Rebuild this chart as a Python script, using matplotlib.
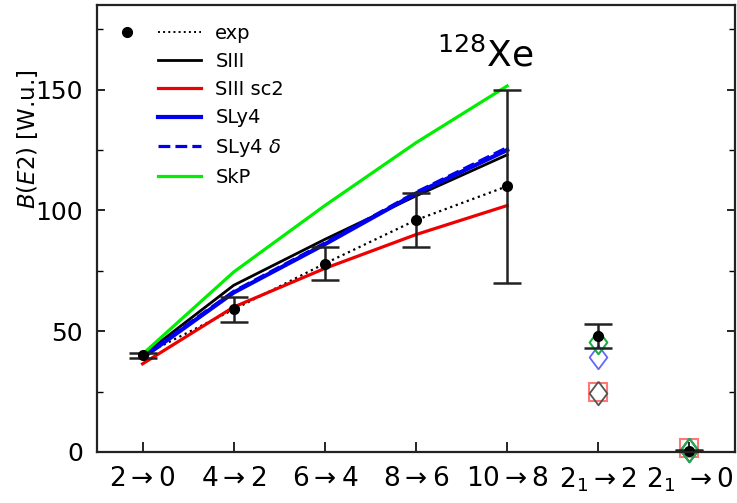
import matplotlib
matplotlib.use("Agg")
import matplotlib.pyplot as plt
from matplotlib.lines import Line2D
from matplotlib.legend_handler import HandlerLine2D
import numpy as np

plt.rcParams['font.family'] = ['DejaVu Sans']
plt.rcParams['mathtext.fontset'] = 'dejavusans'

# 跃迁标签
labels = [r'$2\rightarrow0$', r'$4\rightarrow2$', r'$6\rightarrow4$',
          r'$8\rightarrow6$', r'$10\rightarrow8$',
          r'$2_1\rightarrow2$', r'$2_1\ \rightarrow0$']

# 基带 (yrast) 数据
exp_val = [40, 59, 78, 96, 110]
exp_err = [1, 5, 7, 11, 40]
siii = [40, 69, 88, 106, 123]
siii_sc2 = [36.5, 60, 76, 90, 102]
sly4 = [39, 66, 86, 107, 125]
sly4_delta = [39.5, 66.5, 86.5, 107.5, 126]
skp = [40.5, 74.5, 102, 128, 151.5]

# 2_1 态数据
exp2_val = [48, 0.6]
exp2_err = [5, 0.3]
siii_2 = [24.6, 1.0]
siii_sc2_2 = [25, 1.5]
sly4_2 = [39.5, 1.0]
skp_2 = [45.7, 0.8]


class ExpHandler(HandlerLine2D):
    # 图例中 exp 项: 左边一个点, 右边一条虚线
    def create_artists(self, legend, orig_handle, xdescent, ydescent, width, height, fontsize, trans):
        y = height / 2 - ydescent
        line = Line2D([-xdescent, width - xdescent], [y, y], ls=':', color='k', lw=1.4)
        dot = Line2D([-xdescent - 0.72 * width], [y], marker='o', color='k', ms=7, ls='')
        line.set_transform(trans)
        dot.set_transform(trans)
        return [line, dot]


fig = plt.figure(figsize=(7.37, 5.03), dpi=100)
ax = fig.add_axes([0.1316, 0.1014, 0.8657, 0.8886])

x = np.arange(len(exp_val))
x2 = np.arange(len(exp_val), len(labels))

l_exp, = ax.plot(x, exp_val, ':', color='k', lw=1.6)
l_siii, = ax.plot(x, siii, '-', color='k', lw=2)
l_sc2, = ax.plot(x, siii_sc2, '-', color='#ee0000', lw=2.3)
l_sly4, = ax.plot(x, sly4, '-', color='#0000ee', lw=3)
l_sly4d, = ax.plot(x, sly4_delta, '--', color='#0000ee', lw=2.3)
l_skp, = ax.plot(x, skp, '-', color='#00ee00', lw=2.3)

diamond = [(0, 1), (0.75, 0), (0, -1), (-0.75, 0), (0, 1)]
ax.plot(x2, siii_sc2_2, ls='', marker='s', ms=12.5, mfc='none', mec='#ff7777', mew=1.5, clip_on=False)
ax.plot(x2, siii_2, ls='', marker=diamond, ms=17, mfc='none', mec='#555555', mew=1.3, clip_on=False)
ax.plot(x2, sly4_2, ls='', marker=diamond, ms=17, mfc='none', mec='#6666ff', mew=1.3, clip_on=False)
ax.plot(x2, skp_2, ls='', marker=diamond, ms=17, mfc='none', mec='#22aa44', mew=1.5, clip_on=False)

ax.errorbar(x, exp_val, yerr=exp_err, fmt='o', color='k', ms=7, elinewidth=1.8,
            capsize=10, capthick=1.8, ecolor='#222222')
ax.errorbar(x2, exp2_val, yerr=exp2_err, fmt='o', color='k', ms=7, elinewidth=1.8,
            capsize=10, capthick=1.8, ecolor='#222222', clip_on=False)

ax.text(3.23, 159.5, r'$^{128}$Xe', fontsize=26, va='baseline', ha='left')

ax.set_xlim(-0.5, 6.5)
ax.set_ylim(0, 185)
ax.set_xticks(np.arange(len(labels)))
ax.set_xticklabels(labels, fontsize=19)
ax.set_yticks([0, 50, 100, 150])
ax.set_yticks([25, 75, 125, 175], minor=True)
ax.tick_params(axis='y', which='both', direction='in', right=True, labelsize=18, pad=10)
ax.tick_params(axis='y', which='major', length=6, width=1.2)
ax.tick_params(axis='y', which='minor', length=4, width=1.0)
ax.tick_params(axis='x', direction='in', length=7, width=1.2, pad=10)
for s in ax.spines.values():
    s.set_linewidth(1.6)
    s.set_color('#222222')

ax.set_ylabel(r'$B(E2)$ [W.u.]', fontsize=16.5)
ax.yaxis.set_label_coords(-0.09, 0.70)

handles = [l_exp, l_siii, l_sc2, l_sly4, l_sly4d, l_skp]
names = ['exp', 'SIII', 'SIII sc2', 'SLy4', r'SLy4 $\delta$', 'SkP']
ax.legend(handles, names, loc='upper left', bbox_to_anchor=(0.0956, 0.9575), frameon=False,
          fontsize=14, handlelength=2.2, handletextpad=0.75, labelspacing=0.47,
          borderaxespad=0, borderpad=0, handler_map={l_exp: ExpHandler()})

fig.savefig('out.png', dpi=100)
